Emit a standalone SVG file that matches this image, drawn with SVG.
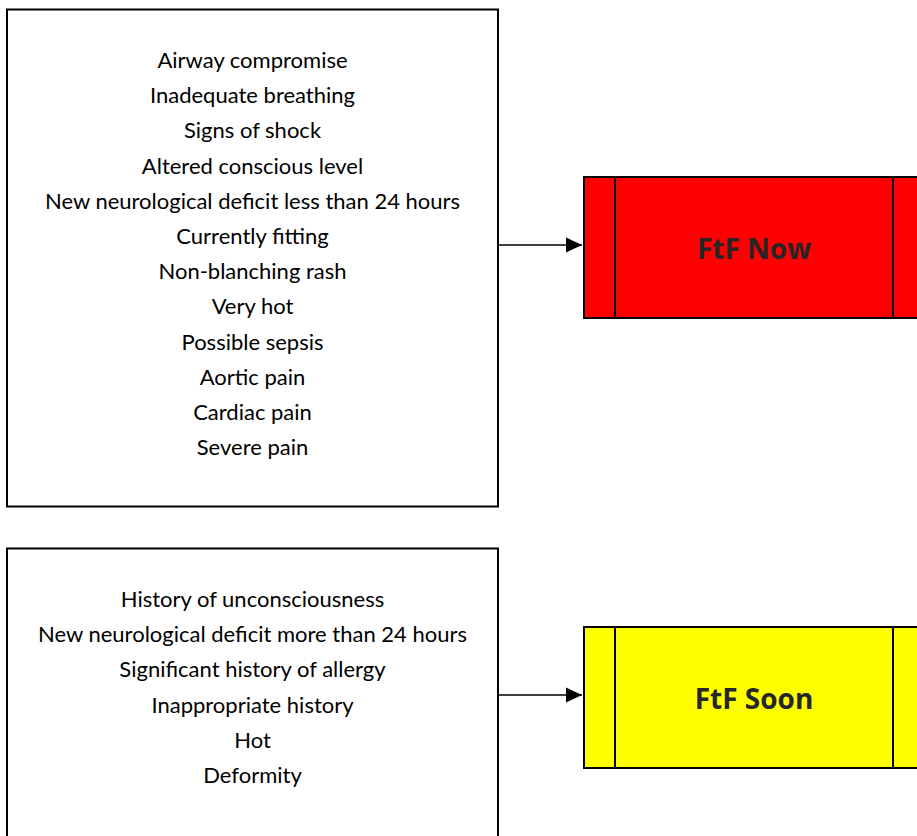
<svg xmlns="http://www.w3.org/2000/svg" width="917" height="836" viewBox="0 0 917 836">
<defs>
<marker id="arr" markerUnits="userSpaceOnUse" markerWidth="17" markerHeight="16" refX="16" refY="8" orient="auto"><path d="M0,0.5 L16,8 L0,15.5 Z" fill="#000"/></marker>
</defs>
<style>
.box{fill:#fff;stroke:#000;stroke-width:2}
.item{font-family:Lato,"Liberation Sans",sans-serif;font-size:22px;fill:#000;text-anchor:middle}
.btn{stroke:#000;stroke-width:2}
.lbl{font-family:"Open Sans","Liberation Sans",sans-serif;font-weight:bold;font-size:28px;fill:#262626;text-anchor:middle}
.conn{stroke:#000;stroke-width:1.5;fill:none}
</style>
<rect width="917" height="836" fill="#fff"/>
<g id="node-immediate-criteria">
<rect class="box" x="7" y="9.5" width="491" height="497"/>
<text class="item" x="252.5" y="68">Airway compromise</text>
<text class="item" x="252.5" y="103.2">Inadequate breathing</text>
<text class="item" x="252.5" y="138.4">Signs of shock</text>
<text class="item" x="252.5" y="173.6">Altered conscious level</text>
<text class="item" x="252.5" y="208.8">New neurological deficit less than 24 hours</text>
<text class="item" x="252.5" y="244">Currently fitting</text>
<text class="item" x="252.5" y="279.2">Non-blanching rash</text>
<text class="item" x="252.5" y="314.4">Very hot</text>
<text class="item" x="252.5" y="349.6">Possible sepsis</text>
<text class="item" x="252.5" y="384.8">Aortic pain</text>
<text class="item" x="252.5" y="420">Cardiac pain</text>
<text class="item" x="252.5" y="455.2">Severe pain</text>
</g>
<g id="node-soon-criteria">
<rect class="box" x="7" y="548.5" width="491" height="300"/>
<text class="item" x="252.5" y="607">History of unconsciousness</text>
<text class="item" x="252.5" y="642.2">New neurological deficit more than 24 hours</text>
<text class="item" x="252.5" y="677.4">Significant history of allergy</text>
<text class="item" x="252.5" y="712.6">Inappropriate history</text>
<text class="item" x="252.5" y="747.8">Hot</text>
<text class="item" x="252.5" y="783">Deformity</text>
</g>
<g id="node-ftf-now">
<rect class="btn" x="584" y="177" width="360" height="141" fill="#ff0000"/>
<line class="btn" x1="615" y1="177" x2="615" y2="318"/>
<line class="btn" x1="893" y1="177" x2="893" y2="318"/>
<text class="lbl" x="754" y="259">FtF Now</text>
</g>
<g id="node-ftf-soon">
<rect class="btn" x="584" y="627" width="360" height="141" fill="#ffff00"/>
<line class="btn" x1="615" y1="627" x2="615" y2="768"/>
<line class="btn" x1="893" y1="627" x2="893" y2="768"/>
<text class="lbl" x="754" y="709">FtF Soon</text>
</g>
<g id="connectors">
<line class="conn" x1="498" y1="245" x2="582" y2="245" marker-end="url(#arr)"/>
<line class="conn" x1="498" y1="695" x2="582" y2="695" marker-end="url(#arr)"/>
</g>
</svg>
